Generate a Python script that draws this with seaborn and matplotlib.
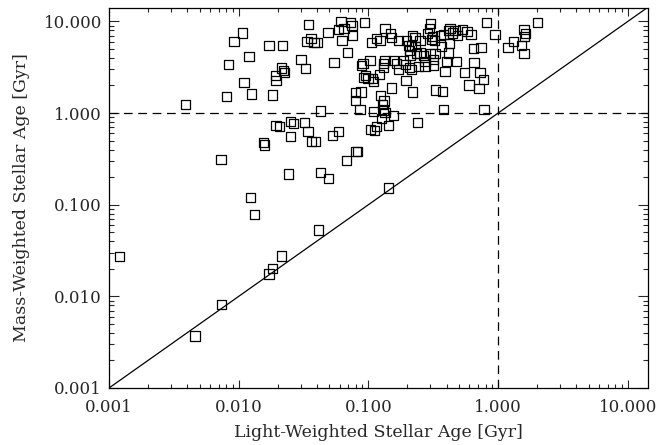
import numpy as np
import pandas as pd
import matplotlib
matplotlib.use("Agg")
import matplotlib.pyplot as plt
from matplotlib.ticker import LogLocator, FormatStrFormatter, NullFormatter
import seaborn as sns

# Light-weighted stellar age [Gyr]
light_age = [
    0.0012, 0.0046, 0.0074, 0.0171, 0.0181, 0.0215, 0.041, 0.0123, 0.0132, 0.0073,
    0.0241, 0.0429, 0.0494, 0.0676, 0.0803, 0.0821, 0.0155, 0.0159, 0.0252, 0.0342,
    0.0363, 0.039, 0.0531, 0.059, 0.104, 0.112, 0.0194, 0.0206, 0.0252, 0.0264,
    0.032, 0.142, 0.0039, 0.0081, 0.0126, 0.0181, 0.011, 0.0084, 0.012, 0.0092,
    0.0107, 0.0171, 0.0218, 0.0345, 0.0302, 0.0327, 0.0215, 0.0191, 0.0194, 0.0224,
    0.0336, 0.0361, 0.0381, 0.0402, 0.0488, 0.0543, 0.0588, 0.0615, 0.0626, 0.0649,
    0.0728, 0.0748, 0.0754, 0.0692, 0.0933, 0.0909, 0.103, 0.106, 0.095, 0.0993,
    0.0925, 0.0795, 0.0877, 0.0798, 0.0861, 0.0427, 0.110, 0.0888, 0.022,
    0.134, 0.116, 0.123, 0.149, 0.151, 0.170, 0.197, 0.220, 0.229, 0.250,
    0.299, 0.295, 0.284, 0.308, 0.313, 0.321, 0.357, 0.378, 0.413, 0.426,
    0.447, 0.465, 0.485, 0.421, 0.367, 0.203, 0.216, 0.229, 0.207, 0.209,
    0.236, 0.250, 0.265, 0.273, 0.299, 0.326, 0.317, 0.413, 0.402,
    0.134, 0.130, 0.156, 0.165, 0.186, 0.192, 0.243, 0.317, 0.480,
    0.130, 0.170, 0.207, 0.216, 0.273, 0.390, 0.108, 0.110, 0.121, 0.195,
    0.151, 0.220, 0.330, 0.374, 0.124, 0.132, 0.129, 0.130, 0.134, 0.156,
    0.127, 0.142, 0.116, 0.240, 0.378,
    0.549, 0.597, 0.644, 0.652, 0.712, 0.725, 0.769, 0.738, 0.811, 0.947,
    0.779, 0.530, 0.576, 0.618, 2.02, 1.58, 1.62, 1.59, 1.31, 1.19, 1.52, 1.58,
]

# Mass-weighted stellar age [Gyr]
mass_age = [
    0.027, 0.0037, 0.0082, 0.0175, 0.020, 0.0275, 0.053, 0.119, 0.078, 0.314,
    0.216, 0.225, 0.194, 0.304, 0.384, 0.378, 0.473, 0.447, 0.560, 0.635,
    0.485, 0.485, 0.564, 0.630, 0.667, 0.651, 0.729, 0.720, 0.802, 0.776,
    0.790, 0.152, 1.25, 1.53, 1.61, 1.57, 2.15, 3.41, 4.10, 5.98,
    7.49, 5.50, 5.41, 9.16, 3.84, 3.09, 3.10, 2.59, 2.28, 2.79,
    6.08, 6.48, 5.89, 5.89, 7.62, 3.53, 8.22, 9.92, 6.24, 8.37,
    9.68, 9.09, 6.98, 4.58, 9.80, 3.50, 3.77, 5.86, 2.59, 2.40,
    2.42, 1.67, 1.70, 1.38, 1.10, 1.05, 1.04, 3.33, 2.94,
    8.37, 6.51, 6.13, 7.38, 6.68, 6.24, 6.24, 7.07, 6.68, 6.24,
    9.49, 8.37, 7.38, 6.35, 6.78, 6.13, 7.07, 7.25, 8.02, 8.37,
    7.49, 8.02, 7.07, 5.74, 5.27, 5.50, 5.50, 5.27, 4.85, 4.28,
    4.47, 4.53, 4.28, 3.62, 4.47, 4.47, 3.84, 4.53, 3.62,
    3.77, 3.48, 3.77, 3.48, 3.77, 3.41, 3.19, 3.33, 3.62,
    3.11, 3.01, 3.11, 3.01, 3.19, 2.86, 2.38, 2.23, 2.64, 2.25,
    1.88, 1.70, 1.78, 1.73, 1.54, 1.35, 1.24, 1.08, 1.01, 0.932,
    0.873, 0.738, 0.707, 0.790, 1.09,
    2.77, 2.02, 5.06, 3.53, 1.86, 2.77, 2.34, 5.14, 9.63, 7.20,
    1.10, 8.22, 7.82, 7.25, 9.80, 8.16, 7.38, 6.78, 5.98, 5.14, 5.41, 4.47,
]

ref_age = [1.0]
decade_ticks = [0.001, 0.01, 0.1, 1.0, 10.0]
axis_min, x_max, y_max = 0.001, 14.3, 14.0

df = pd.DataFrame({"light": light_age, "mass": mass_age})

sns.set_style("ticks")
plt.rcParams["font.family"] = ["DejaVu Serif"]
plt.rcParams["font.size"] = 12

fig = plt.figure(figsize=(6.62, 4.45), dpi=100)
ax = fig.add_axes([109 / 662, 1 - 388 / 445, (648 - 109) / 662, (388 - 8) / 445])

sns.scatterplot(data=df, x="light", y="mass", marker="s", s=44,
                facecolor="none", edgecolor="black", linewidth=0.9, ax=ax,
                zorder=3)

ax.set_xscale("log")
ax.set_yscale("log")

# one-to-one line and 1 Gyr reference lines
ax.axline((axis_min, axis_min), (ref_age[0], ref_age[0]), color="black", lw=0.9)
ax.axvline(ref_age[0], color="black", lw=0.9, linestyle=(0, (7, 4.5)))
ax.axhline(ref_age[0], color="black", lw=0.9, linestyle=(0, (7, 4.5)))

for axis in (ax.xaxis, ax.yaxis):
    axis.set_major_locator(LogLocator(base=10, numticks=10))
    axis.set_minor_locator(LogLocator(base=10, subs=np.arange(2, 10), numticks=10))
    axis.set_major_formatter(FormatStrFormatter("%.3f"))
    axis.set_minor_formatter(NullFormatter())
ax.set_xticks(decade_ticks)
ax.set_yticks(decade_ticks)
ax.set_xlim(axis_min, x_max)
ax.set_ylim(axis_min, y_max)

ax.tick_params(axis="x", which="major", direction="in", top=True, length=5.5, width=0.8, pad=8, labelsize=12)
ax.tick_params(axis="x", which="minor", direction="in", top=True, length=2.8, width=0.8)
ax.tick_params(axis="y", which="major", direction="in", right=True, length=7.5, width=0.8, pad=5, labelsize=12)
ax.tick_params(axis="y", which="minor", direction="in", right=True, length=3.7, width=0.8)

for sp in ax.spines.values():
    sp.set_color("black")
    sp.set_linewidth(0.9)

ax.set_xlabel("Light-Weighted Stellar Age [Gyr]", fontsize=12.5, labelpad=5.5)
ax.set_ylabel("Mass-Weighted Stellar Age [Gyr]", fontsize=12.5, labelpad=10)

fig.savefig("out.png", dpi=100)
